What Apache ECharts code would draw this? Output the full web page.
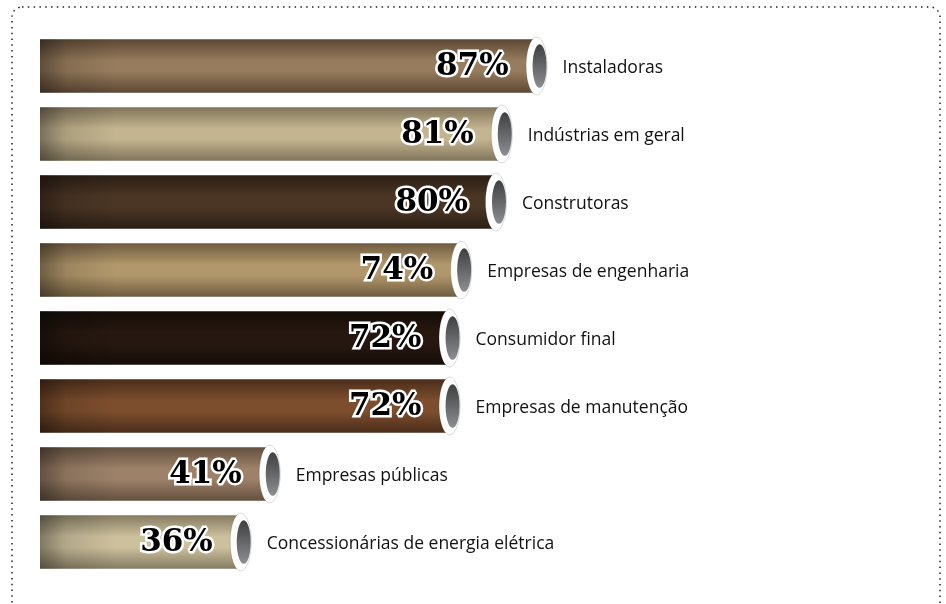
<!DOCTYPE html>
<html>
<head>
<meta charset="utf-8">
<script src="https://cdn.jsdelivr.net/npm/echarts@6/dist/echarts.min.js"></script>
<style>
  html, body { margin: 0; padding: 0; background: #fff; }
  #chart { width: 946px; height: 604px; }
</style>
</head>
<body>
<div id="chart"></div>
<script>
const categories = [
  "Instaladoras",
  "Indústrias em geral",
  "Construtoras",
  "Empresas de engenharia",
  "Consumidor final",
  "Empresas de manutenção",
  "Empresas públicas",
  "Concessionárias de energia elétrica",
];
const values = [87, 81, 80, 74, 72, 72, 41, 36];
// middle (highlight) and edge (shadow) tone of each tube
const midColors = ["#977c5d", "#c4b590", "#4b3625", "#b1976b", "#261810", "#7d4e2d", "#9d8169", "#ccc09d"];
const edgeColors = ["#5b4733", "#80745a", "#2b1e14", "#6f5c40", "#150c07", "#4a2d1a", "#63503f", "#857b62"];

const X_MIN = 1.4;
const PCT_FONT = 'bold 31px "DejaVu Serif"';

function tube(params, api) {
  const i = api.value(1);
  const v = api.value(0);
  const end = api.coord([v, i]);
  const start = api.coord([X_MIN, i]);
  const h = api.size([0, 1])[1] * 0.79;
  const top = end[1] - h / 2;
  const pctX = end[0] - 28;
  return {
    type: "group",
    children: [
      {
        type: "rect",
        shape: { x: start[0], y: top, width: end[0] - start[0], height: h },
        style: {
          fill: new echarts.graphic.LinearGradient(0, 0, 0, 1, [
            { offset: 0, color: edgeColors[i] },
            { offset: 0.4, color: midColors[i] },
            { offset: 0.6, color: midColors[i] },
            { offset: 1, color: edgeColors[i] },
          ]),
        },
      },
      {
        type: "rect",
        shape: { x: start[0], y: top, width: 75, height: h },
        style: {
          fill: new echarts.graphic.LinearGradient(0, 0, 1, 0, [
            { offset: 0, color: "rgba(0,0,0,0.38)" },
            { offset: 0.35, color: "rgba(0,0,0,0.12)" },
            { offset: 1, color: "rgba(0,0,0,0)" },
          ]),
        },
      },
      {
        type: "ellipse",
        shape: { cx: end[0], cy: end[1], rx: 10.5, ry: h / 2 + 2 },
        style: { fill: "#fff", stroke: "rgba(0,0,0,0.15)", lineWidth: 1 },
      },
      {
        type: "ellipse",
        shape: { cx: end[0] + 3, cy: end[1], rx: 7, ry: h / 2 - 5 },
        style: {
          fill: new echarts.graphic.LinearGradient(0, 0, 0, 1, [
            { offset: 0, color: "#3e3f41" },
            { offset: 1, color: "#8c8e91" },
          ]),
        },
      },
      {
        type: "text",
        x: pctX,
        y: end[1] + 1,
        style: {
          text: v + "%",
          align: "right",
          verticalAlign: "middle",
          font: PCT_FONT,
          fill: "#fff",
          stroke: "#fff",
          lineWidth: 5,
        },
      },
      {
        type: "text",
        x: pctX,
        y: end[1] + 1,
        style: {
          text: v + "%",
          align: "right",
          verticalAlign: "middle",
          font: PCT_FONT,
          fill: "#000",
        },
      },
      {
        type: "text",
        x: end[0] + 26,
        y: end[1] + 2,
        style: {
          text: categories[i],
          align: "left",
          verticalAlign: "middle",
          font: '17.5px "Open Sans"',
          fill: "#111",
        },
      },
    ],
  };
}

const chart = echarts.init(document.getElementById("chart"), null, { renderer: "canvas" });
chart.setOption({
  animation: false,
  grid: { left: 40, right: 334, top: 32, bottom: 28 },
  xAxis: { type: "value", min: X_MIN, max: 100, show: false },
  yAxis: { type: "category", data: categories, inverse: true, show: false },
  graphic: [
    {
      type: "rect",
      shape: { x: 12, y: 7, width: 928, height: 640, r: 10 },
      style: { fill: "none", stroke: "#222", lineWidth: 1.5, lineDash: [1.5, 4.3] },
      silent: true,
    },
  ],
  series: [
    {
      type: "custom",
      renderItem: tube,
      encode: { x: 0, y: 1 },
      data: values.map((v, i) => [v, i]),
    },
  ],
});
</script>
</body>
</html>
